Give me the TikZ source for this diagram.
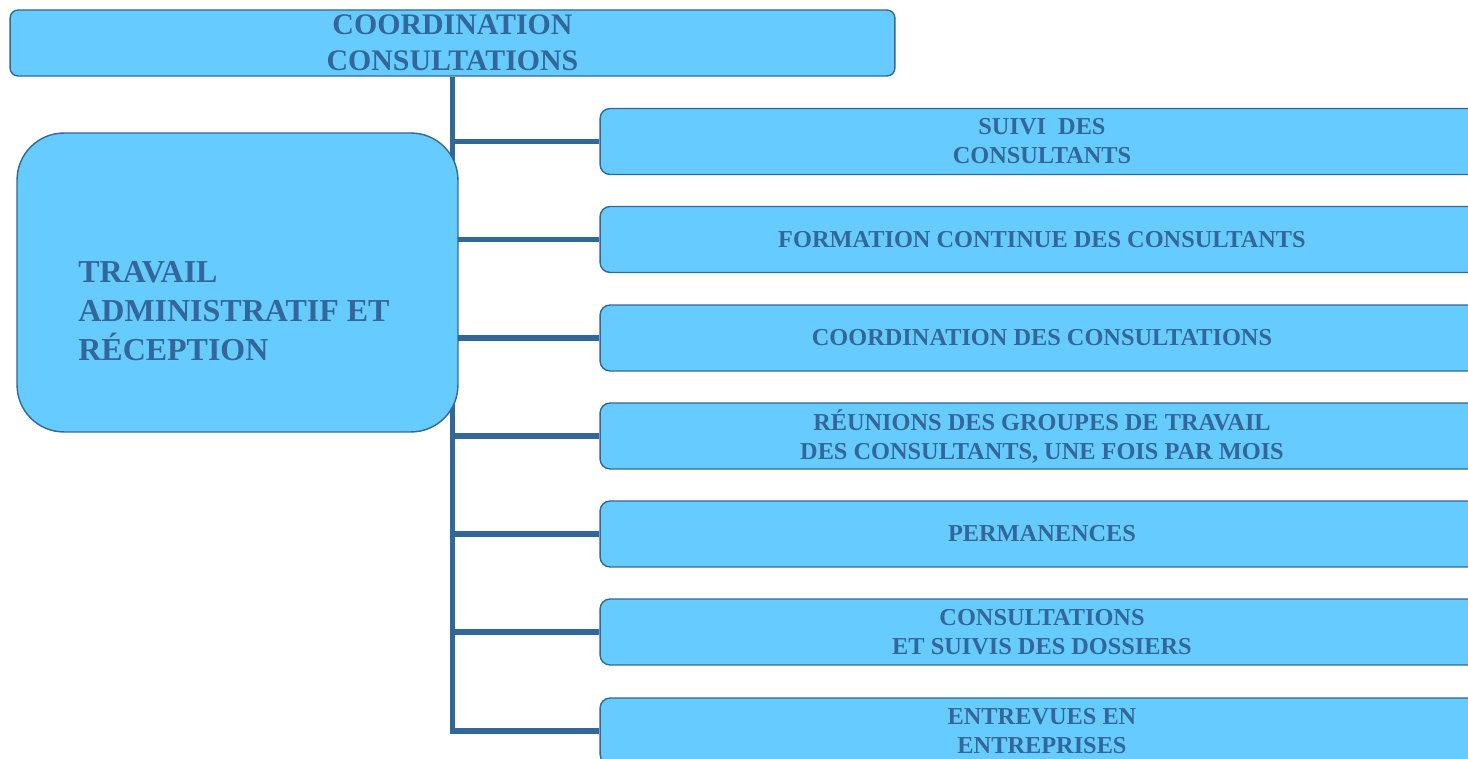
\documentclass[tikz,border=0pt]{standalone}
\usepackage{fontspec}
\setmainfont{Liberation Serif}
\usepackage{xcolor}
\definecolor{bleu_clair}{HTML}{66CCFF}
\definecolor{bleu_fonce}{HTML}{336699}

\begin{document}
\begin{tikzpicture}[x=0.02cm,y=-0.02cm,
    boite/.style={draw=bleu_fonce,line width=0.8pt,fill=bleu_clair,text=bleu_fonce,
        font=\bfseries\fontsize{13.85}{16.5}\selectfont,align=center,inner sep=0pt,
        rounded corners=0.2cm,minimum width=17.68cm,minimum height=1.32cm},
    lien/.style={bleu_fonce,line width=3pt}]

    \useasboundingbox (0,0) rectangle (1468,759);
    \clip (0,0) rectangle (1468,759);

    % Placer les centres des boites
    \coordinate (T0) at (452.5,43);
    \coordinate (B01) at (1042,141.5);
    \coordinate (B02) at (1042,239.5);
    \coordinate (B03) at (1042,338);
    \coordinate (B04) at (1042,436);
    \coordinate (B05) at (1042,534);
    \coordinate (B06) at (1042,632);
    \coordinate (B07) at (1042,731);

    % Boite du haut
    \node[boite,minimum width=17.7cm,rounded corners=0.16cm,font=\bfseries\fontsize{17}{20.6}\selectfont] (T) at (T0) {COORDINATION\\CONSULTATIONS};

    % Boites de droite
    \node[boite] (B1) at (B01) {SUIVI\ \ DES\\CONSULTANTS};
    \node[boite] (B2) at (B02) {FORMATION CONTINUE DES CONSULTANTS};
    \node[boite] (B3) at (B03) {COORDINATION DES CONSULTATIONS};
    \node[boite] (B4) at (B04) {RÉUNIONS DES GROUPES DE TRAVAIL\\DES CONSULTANTS, UNE FOIS PAR MOIS};
    \node[boite] (B5) at (B05) {PERMANENCES};
    \node[boite] (B6) at (B06) {CONSULTATIONS\\ET SUIVIS DES DOSSIERS};
    \node[boite] (B7) at (B07) {ENTREVUES EN\\ENTREPRISES};

    % Tracer le tronc et les branches
    \draw[lien] (T.south) -- (T.south |- B7.west) -- (B7.west);
    \draw[lien] (T.south |- B1.west) -- (B1.west);
    \draw[lien] (T.south |- B2.west) -- (B2.west);
    \draw[lien] (T.south |- B3.west) -- (B3.west);
    \draw[lien] (T.south |- B4.west) -- (B4.west);
    \draw[lien] (T.south |- B5.west) -- (B5.west);
    \draw[lien] (T.south |- B6.west) -- (B6.west);

    % Boite de gauche, par-dessus le tronc
    \node[boite,minimum width=8.82cm,minimum height=5.98cm,rounded corners=0.94cm] (A) at (237.5,282.5) {};
    \node[text=bleu_fonce,font=\bfseries\fontsize{18.2}{22}\selectfont,align=left,anchor=west,inner sep=0pt] (A1) at (78,311) {TRAVAIL\\ADMINISTRATIF ET\\RÉCEPTION};
\end{tikzpicture}
\end{document}
